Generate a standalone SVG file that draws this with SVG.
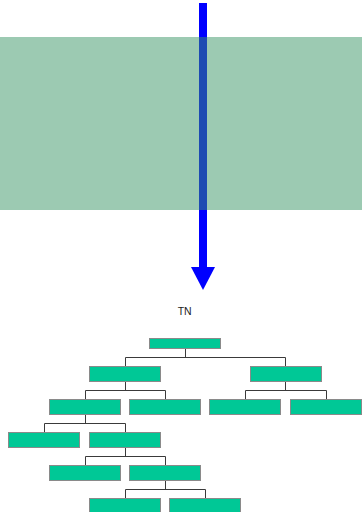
<svg xmlns="http://www.w3.org/2000/svg" width="362" height="512" viewBox="0 0 362 512">
<style>
.n{fill:#00c896;stroke:#8a8a8a;stroke-width:1}
.c{fill:none;stroke:#3a3a3a;stroke-width:1}
.t{font-family:"Liberation Sans",Arial,sans-serif;font-size:10.5px;fill:#222}
</style>
<rect width="362" height="512" fill="#ffffff"/>
<g id="arrow">
<rect x="199" y="3" width="8" height="265" fill="#0000ff"/>
<polygon points="191,267 215,267 203,290" fill="#0000ff"/>
</g>
<rect id="band" x="0" y="37" width="362" height="173" fill="#399565" fill-opacity="0.5"/>
<text class="t" x="184.7" y="315.3" text-anchor="middle">TN</text>
<g id="connectors">
<path class="c" d="M185.5,349 V357.5 M125.5,357.5 H285.5 M125.5,357.5 V366 M285.5,357.5 V366"/>
<path class="c" d="M125.5,382 V390.5 M85.5,390.5 H165.5 M85.5,390.5 V399 M165.5,390.5 V399"/>
<path class="c" d="M285.5,382 V390.5 M245.5,390.5 H326.5 M245.5,390.5 V399 M326.5,390.5 V399"/>
<path class="c" d="M85.5,415 V423.5 M44.5,423.5 H125.5 M44.5,423.5 V432 M125.5,423.5 V432"/>
<path class="c" d="M125.5,448 V456.5 M85.5,456.5 H165.5 M85.5,456.5 V465 M165.5,456.5 V465"/>
<path class="c" d="M165.5,481 V489.5 M125.5,489.5 H205.5 M125.5,489.5 V498 M205.5,489.5 V498"/>
</g>
<g id="root"><rect class="n" x="149.5" y="338.5" width="71" height="10"/></g>
<g id="n2a"><rect class="n" x="89.5" y="366.5" width="71" height="15"/></g>
<g id="n2b"><rect class="n" x="250.5" y="366.5" width="71" height="15"/></g>
<g id="n3a"><rect class="n" x="49.5" y="399.5" width="71" height="15"/></g>
<g id="n3b"><rect class="n" x="129.5" y="399.5" width="71" height="15"/></g>
<g id="n3c"><rect class="n" x="209.5" y="399.5" width="71" height="15"/></g>
<g id="n3d"><rect class="n" x="290.5" y="399.5" width="71" height="15"/></g>
<g id="n4a"><rect class="n" x="8.5" y="432.5" width="71" height="15"/></g>
<g id="n4b"><rect class="n" x="89.5" y="432.5" width="71" height="15"/></g>
<g id="n5a"><rect class="n" x="49.5" y="465.5" width="71" height="15"/></g>
<g id="n5b"><rect class="n" x="129.5" y="465.5" width="71" height="15"/></g>
<g id="n6a"><rect class="n" x="89.5" y="498.5" width="71" height="15"/></g>
<g id="n6b"><rect class="n" x="169.5" y="498.5" width="71" height="15"/></g>
</svg>
